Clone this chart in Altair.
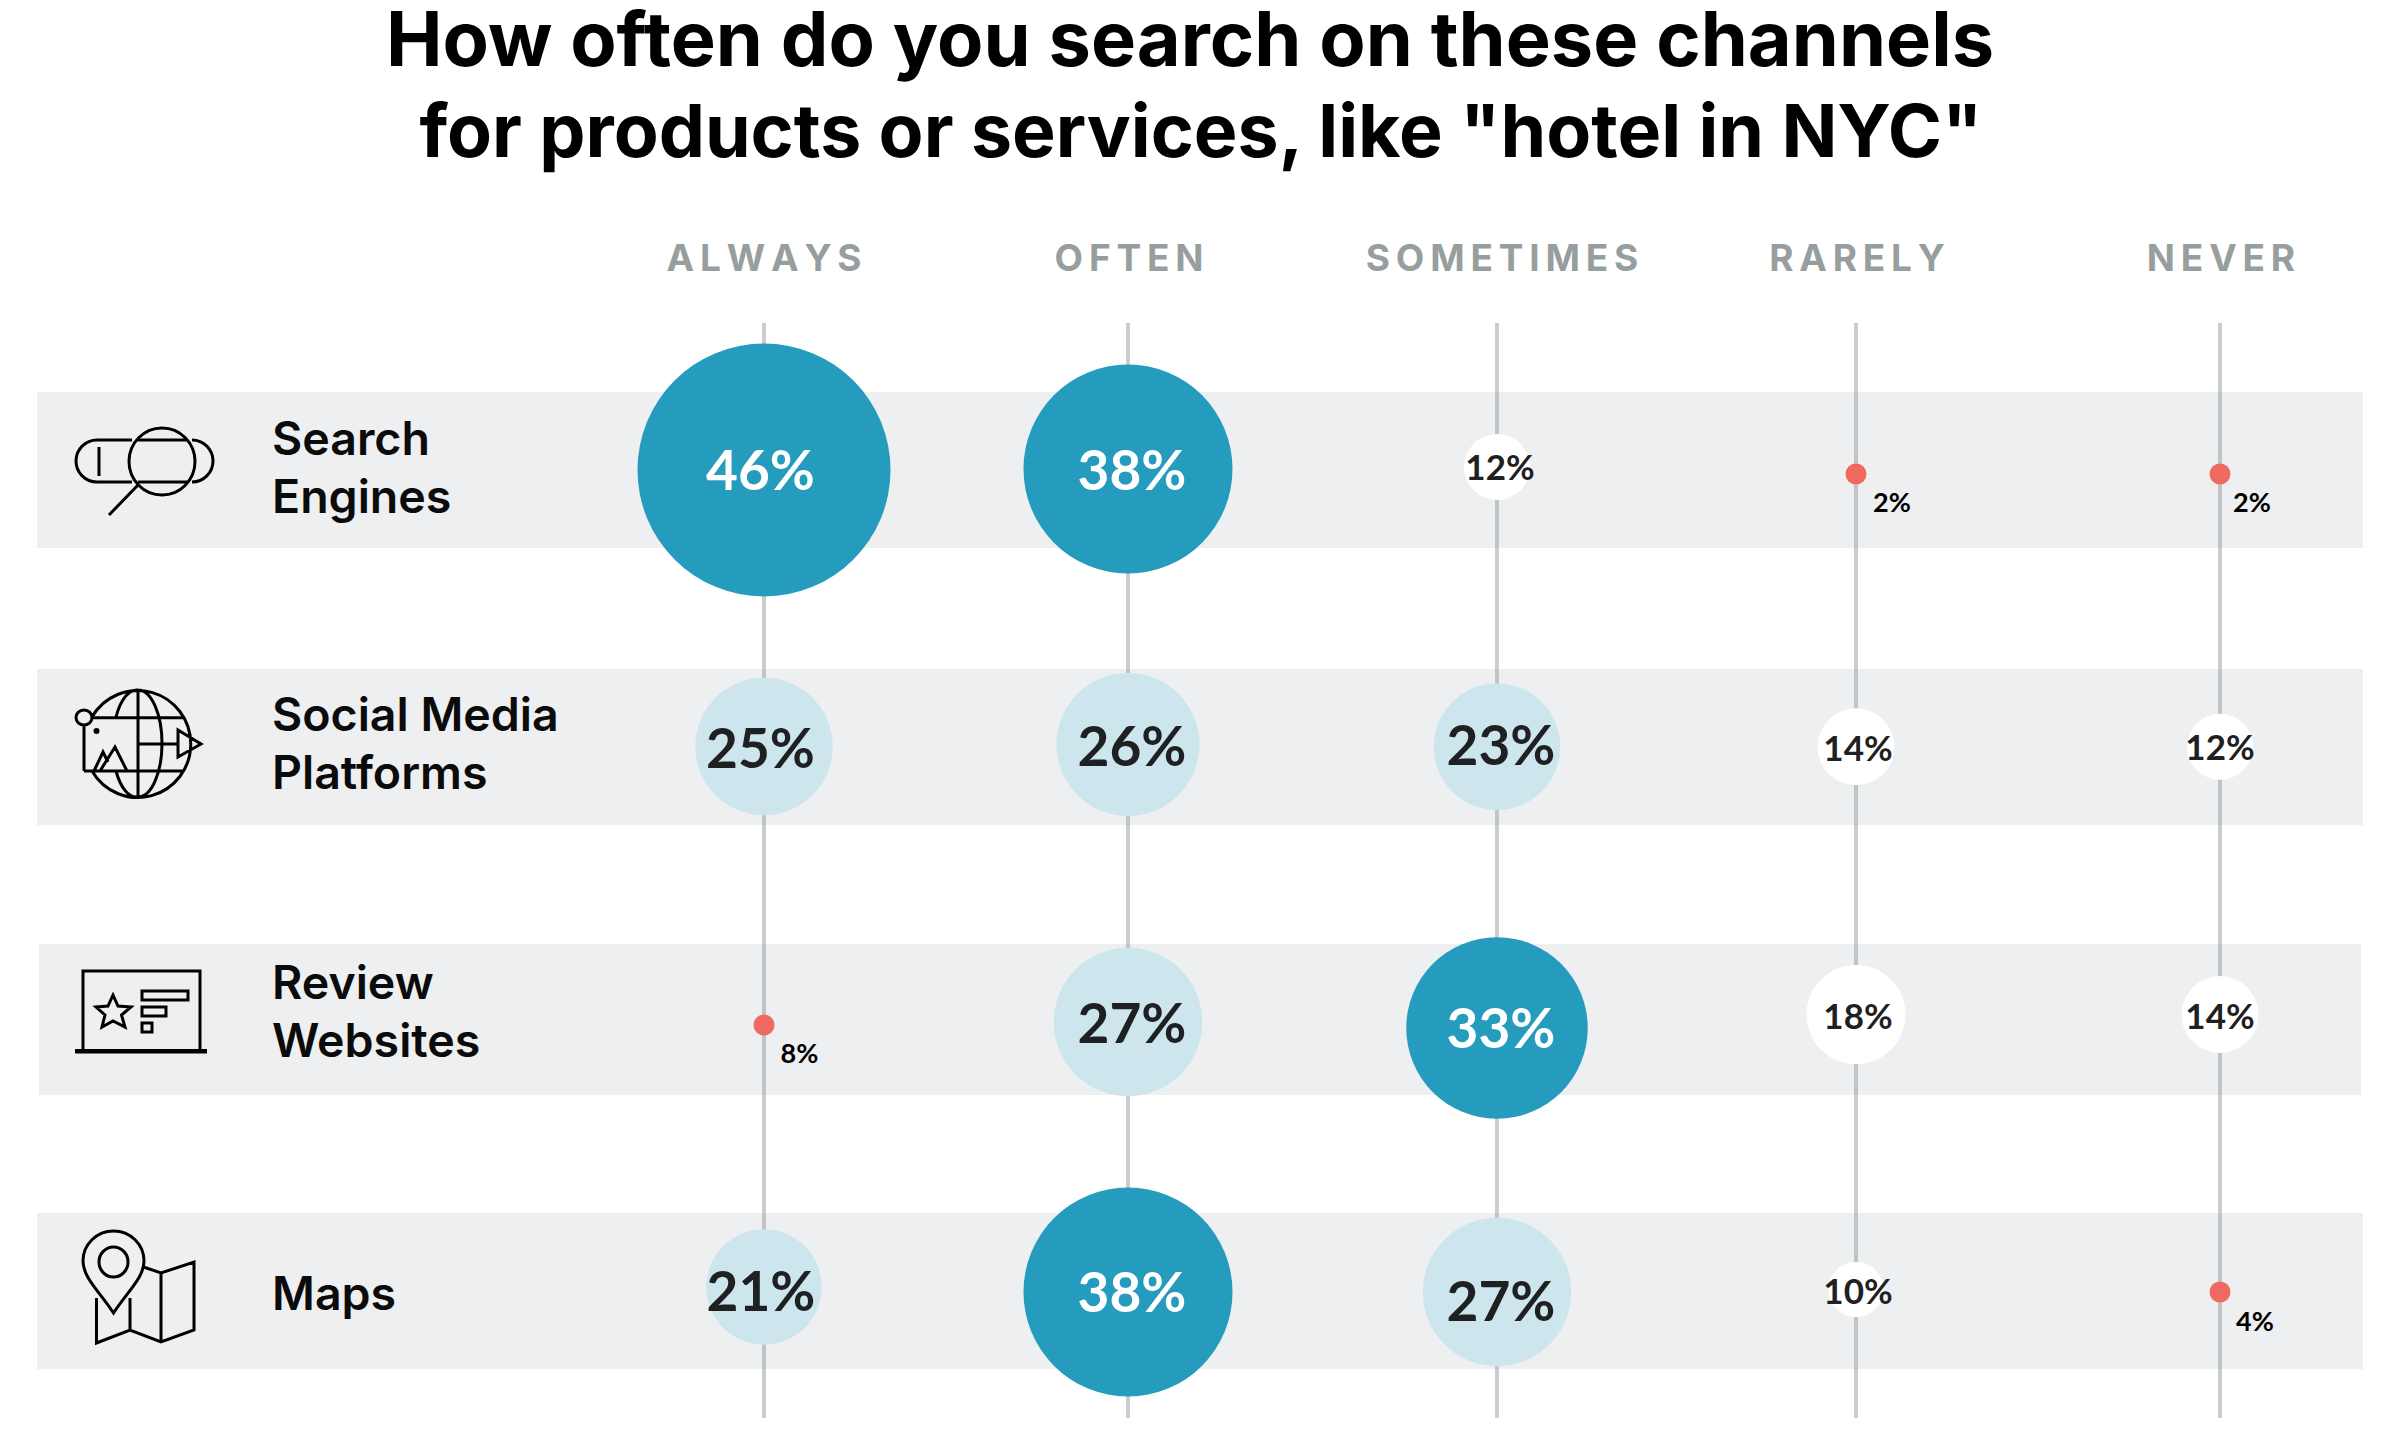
import altair as alt
import pandas as pd

# ---------- values ----------
TITLE_LINES = ["How often do you search on these channels",
               'for products or services, like "hotel in NYC"']
ANSWERS = ["ALWAYS", "OFTEN", "SOMETIMES", "RARELY", "NEVER"]
CHANNELS = ["Search\nEngines", "Social Media\nPlatforms", "Review\nWebsites", "Maps"]
ALWAYS = [46, 25, 8, 21]
OFTEN = [38, 26, 27, 38]
SOMETIMES = [12, 23, 33, 27]
RARELY = [2, 14, 18, 10]
NEVER = [2, 12, 14, 4]

# ---------- layout (page pixels) ----------
FONT = "Inter"
NUM_FONT = "Lato"
COL_X = [764, 1128, 1497, 1856, 2220]
ROW_Y = [469, 746, 1020, 1291]
CIRCLE_DY = [[1, 0, -2, 5, 5], [0.5, -1.5, 0.7, 0.7, 0.7], [5, 2, 8, -5.5, -5.5], [-4, 1, 1, -1.5, 1]]
LABEL_DY = [[20.5, 20.5, 11, 43, 43], [21.5, 19.5, 18.5, 15, 14], [43, 22.5, 27.5, 9, 9], [19.5, 20.5, 29.5, 13, 40]]
LABEL_DX = [[-3.5, 4, 3, 36, 32], [-3.5, 4, 4, 2, 0], [35.5, 4, 4, 2, 0], [-3, 4, 4, 2, 35]]
BAND_Y = [(392, 548, 37, 2363), (669, 825, 37, 2363), (944, 1095, 39, 2361), (1213, 1369, 37, 2363)]
CHANNEL_Y = [455, 731, 999, 1310]
HEADER_X = [764, 1129, 1502, 1857, 2221]
W, H = 2384, 1422

series = [ALWAYS, OFTEN, SOMETIMES, RARELY, NEVER]
cells = pd.DataFrame([
    {"row": r, "col": c, "value": series[c][r], "label": f"{series[c][r]}%",
     "cy": ROW_Y[r] + CIRCLE_DY[r][c] - 8,
     "ly": ROW_Y[r] + LABEL_DY[r][c] - 8,
     "lx": COL_X[c] + LABEL_DX[r][c] - 8}
    for r in range(4) for c in range(5)
])
bands = pd.DataFrame([{"y": b[0]-8, "y2": b[1]-8, "x": b[2]-8, "x2": b[3]-8} for b in BAND_Y])
cols = pd.DataFrame({"col": list(range(5)), "answer": ANSWERS})
headers = pd.DataFrame({"text": ["\u200a\u200a".join(a) for a in ANSWERS], "x": [v-8 for v in HEADER_X]})
rows = pd.DataFrame({"text": CHANNELS, "y": [v-8 for v in CHANNEL_Y]})
titles = pd.DataFrame({"text": TITLE_LINES, "x": [1190-8, 1201-8], "y": [66-8, 157-8], "fs": [75.7, 73.4]})

xs = alt.Scale(domain=list(range(5)), range=[v-8 for v in COL_X])
px = lambda f: alt.X(f, scale=None, axis=None)
py = lambda f: alt.Y(f, scale=None, axis=None)
X = alt.X("col:Q", scale=xs, axis=None)

band_layer = alt.Chart(bands).mark_rect(color="#edeff0").encode(
    x=px("x:Q"), x2="x2:Q", y=py("y:Q"), y2="y2:Q")

grid_layer = alt.Chart(cols).mark_rule(color="#8c9696", opacity=0.47, strokeWidth=4).encode(
    x=X, y=alt.value(323-8), y2=alt.value(1418-8))

color_scale = alt.Scale(type="threshold", domain=[10, 20, 30],
                        range=["#f06a62", "#ffffff", "#cde6ee", "#259bbd"])

big = alt.Chart(cells).transform_filter("datum.value >= 10").mark_circle(opacity=1).encode(
    x=X, y=py("cy:Q"),
    color=alt.Color("value:Q", scale=color_scale, legend=None),
    size=alt.Size("value:Q", scale=alt.Scale(type="pow", exponent=2, domain=[0, 100], range=[0, 302500]), legend=None),
)
dots = alt.Chart(cells).transform_filter("datum.value < 10").mark_circle(opacity=1, size=441, color="#f06a62").encode(
    x=X, y=py("cy:Q"))

labels = alt.Chart(cells).mark_text(font=NUM_FONT, fontWeight=700, align="center", baseline="alphabetic").encode(
    x=px("lx:Q"), y=py("ly:Q"),
    text="label:N",
    size=alt.Size("value:Q", scale=alt.Scale(type="threshold", domain=[10, 21], range=[27, 35, 55]), legend=None),
    color=alt.Color("value:Q", scale=alt.Scale(type="threshold", domain=[10, 30], range=["#000000", "#1e2022", "#ffffff"]), legend=None),
)

header_layer = alt.Chart(headers).mark_text(font=FONT, fontWeight=700, fontSize=37, color="#979e9e",
                                            align="center", baseline="alphabetic").encode(
    x=px("x:Q"), y=alt.value(271-8), text="text:N")

row_layer = alt.Chart(rows).mark_text(font=FONT, fontWeight=600, fontSize=46.5, color="#0b0b0b", align="left",
                                      baseline="alphabetic", lineBreak="\n", lineHeight=58).encode(
    x=alt.value(272-8), y=py("y:Q"), text="text:N")

title_layer = alt.Chart(titles).mark_text(font=FONT, fontWeight=700, color="#000000",
                                          align="center", baseline="alphabetic").encode(
    x=px("x:Q"), y=py("y:Q"), text="text:N", size=alt.Size("fs:Q", scale=None, legend=None))

# line-art icons: SVG paths in page pixels
ICON_SEARCH = ("M132,440 H97 A21,21 0 0 0 97,482 H132 M138,440 H187 M138,482 H187 M192,440 A21,21 0 0 1 192,482 "
               "M129,461.5 A33,33.5 0 1 1 195,461.5 A33,33.5 0 1 1 129,461.5 M99,447 V476 M138,485 L109,515")
ICON_GLOBE = ("M92,717 A53,53.5 0 1 1 92,771 M138,690 A24,53.5 0 0 1 138,797 M138,690 A24,53.5 0 0 0 116,717 "
              "M116,771 A24,53.5 0 0 0 138,797 M138,690 V797 M92,717.7 H185 M84,771 H183 M84,725 V771 "
              "M76,717.5 A8,7.5 0 1 1 92,717.5 A8,7.5 0 1 1 76,717.5 M178,730 L201,744 L178,757 Z M138,744 H178 "
              "M94,771 L103,752 L108,762 M100,771 L115,747 L127,771 M95,731 A1.5,1.5 0 1 1 98,731 A1.5,1.5 0 1 1 95,731")
ICON_REVIEW = ("M83,1051 V971 H200 V1051 M75,1050.5 H207 M75,1052 H207 "
               "M113,995 L118,1006 L131,1007 L121.5,1015 L125,1027 L113,1021 L102,1027 L105,1015 L96,1007 L108,1006 Z "
               "M142,991 H188 V1000 H142 Z M142,1007 H166 V1016 H142 Z M142,1023 H152 V1032 H142 Z")
ICON_MAP = ("M113.5,1313 C100,1292 83,1278 83,1261 A30.5,30 0 1 1 144,1261 C144,1278 127,1292 113.5,1313 Z "
            "M99,1262 A14.5,15 0 1 1 128,1262 A14.5,15 0 1 1 99,1262 "
            "M96.5,1298 V1343 L130,1330 L161,1342 L194,1330 V1262 L161,1273 L143.5,1267 M130,1298 V1330 M161,1273 V1342")
icons = [
    alt.Chart(pd.DataFrame({"name": [n]})).mark_point(shape=p, filled=False, stroke="#000000", strokeWidth=3,
                                                       size=4, opacity=1, strokeCap="butt").encode(
        x=alt.value(-8), y=alt.value(-8))
    for n, p in [("search", ICON_SEARCH), ("globe", ICON_GLOBE), ("review", ICON_REVIEW), ("map", ICON_MAP)]
]

chart = alt.layer(band_layer, grid_layer, big, dots, labels, header_layer, row_layer, title_layer, *icons).resolve_scale(
    color="independent", size="independent"
).properties(
    width=W, height=H, padding=0, autosize=alt.AutoSizeParams(type="none"), background="#ffffff"
).configure_view(stroke=None)

chart.save("out.html", embed_options={"renderer": "svg", "actions": False})
